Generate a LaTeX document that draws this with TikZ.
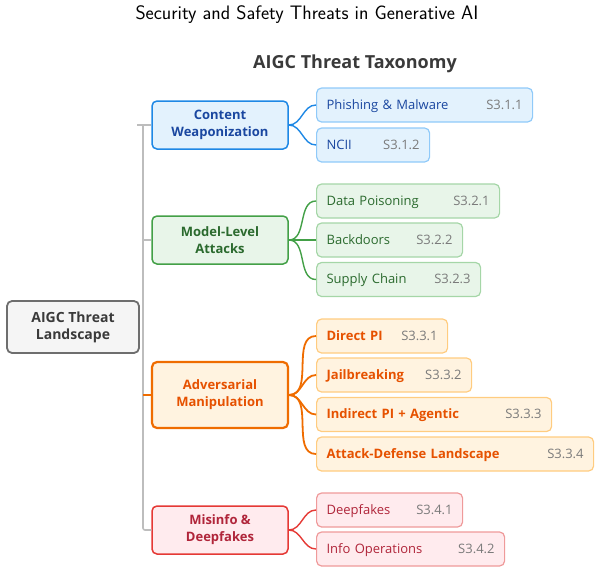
\documentclass[tikz,border=0pt]{standalone}
\usepackage{fontspec}
\setmainfont{Open Sans}
\definecolor{bluefill}{HTML}{E3F2FD}
\definecolor{blueline}{HTML}{1E88E5}
\definecolor{blueleaf}{HTML}{90CAF9}
\definecolor{bluetext}{HTML}{1A47A0}
\definecolor{greenfill}{HTML}{E8F5E9}
\definecolor{greenline}{HTML}{43A047}
\definecolor{greenleaf}{HTML}{A5D6A7}
\definecolor{greentext}{HTML}{2B6A2E}
\definecolor{orangefill}{HTML}{FFF3E0}
\definecolor{orangeline}{HTML}{EF6C00}
\definecolor{orangeleaf}{HTML}{FFCC80}
\definecolor{orangetext}{HTML}{E65100}
\definecolor{redfill}{HTML}{FFEBEE}
\definecolor{redline}{HTML}{E53935}
\definecolor{redleaf}{HTML}{EF9A9A}
\definecolor{redtext}{HTML}{B0253A}
\definecolor{rootfill}{HTML}{F5F5F5}
\definecolor{rootline}{HTML}{6E6E6E}
\definecolor{roottext}{HTML}{3A3A3A}
\definecolor{trunkgray}{HTML}{BDBDBD}
\definecolor{codegray}{HTML}{7A7A7A}
\tikzset{
  box/.style={
    rounded corners=5pt,
    align=center,
    font=\bfseries\fontsize{13}{17}\selectfont
  },
  root-box/.style={box, draw=rootline, fill=rootfill, text=roottext, line width=1.8pt,
    minimum width=132, minimum height=52, font=\bfseries\fontsize{14}{17}\selectfont},
  cat-box/.style={box, minimum width=136, minimum height=48, line width=1.5pt},
  cat-blue/.style={cat-box, draw=blueline, fill=bluefill, text=bluetext},
  cat-green/.style={cat-box, draw=greenline, fill=greenfill, text=greentext},
  cat-orange/.style={cat-box, draw=orangeline, fill=orangefill, text=orangetext,
    line width=2.2pt, minimum height=66},
  cat-red/.style={cat-box, draw=redline, fill=redfill, text=redtext},
  leaf/.style={
    rounded corners=5pt,
    anchor=west,
    align=left,
    minimum height=34,
    inner xsep=10pt,
    line width=1.2pt,
    text height=10pt,
    text depth=1.5pt,
    font=\fontsize{13}{15}\selectfont
  },
  leaf-blue/.style={leaf, draw=blueleaf, fill=bluefill, text=bluetext},
  leaf-green/.style={leaf, draw=greenleaf, fill=greenfill, text=greentext},
  leaf-orange/.style={leaf, draw=orangeleaf, fill=orangefill, text=orangetext,
    font=\bfseries\fontsize{13}{15}\selectfont},
  leaf-red/.style={leaf, draw=redleaf, fill=redfill, text=redtext},
  link/.style={line width=1.4pt},
  trunk/.style={line width=1.6pt, draw=trunkgray}
}
% leaf node: name, style, y, text width, label, section
\newcommand{\leaf}[6]{
  \node[#2, text width=#4] (#1) at (316,#3) {#5\hfill{\mdseries\color{codegray}#6}};
}

\begin{document}
\begin{tikzpicture}[x=1pt, y=-1pt]
  \useasboundingbox (0,0) rectangle (600,574);
  % titles
  \node (title) at (307,15) {\sffamily\fontsize{19.5}{21}\selectfont Security and Safety Threats in Generative AI};
  \node[font=\bfseries\fontsize{18}{20}\selectfont, text=roottext] (subtitle) at (355,64) {AIGC Threat Taxonomy};
  % root and categories
  \node[root-box] (root) at (73,327) {AIGC Threat\\Landscape};
  \node[cat-blue] (cw) at (220,125) {Content\\Weaponization};
  \node[cat-green] (ml) at (220,240) {Model-Level\\Attacks};
  \node[cat-orange] (am) at (220,395) {Adversarial\\Manipulation};
  \node[cat-red] (md) at (220,530) {Misinfo \&\\Deepfakes};
  % spine
  \coordinate (spine) at (143,0);
  \draw[trunk] ([xshift=-14pt]cw.west) -- (cw.west);
  \draw[trunk, rounded corners=2pt] (spine |- cw.west) -- (spine |- md.west) -- (md.west);
  \draw[trunk] (spine |- ml.west) -- (ml.west);
  \draw[trunk, draw=orangeline] (spine |- am.west) -- (am.west);
  % leaves
  \leaf{pm}{leaf-blue}{105}{196}{Phishing \& Malware}{S3.1.1}
  \leaf{nc}{leaf-blue}{145}{93}{NCII}{S3.1.2}
  \leaf{dp}{leaf-green}{201}{163}{Data Poisoning}{S3.2.1}
  \leaf{bd}{leaf-green}{240}{126}{Backdoors}{S3.2.2}
  \leaf{sc}{leaf-green}{279.5}{144}{Supply Chain}{S3.2.3}
  \leaf{dpi}{leaf-orange}{336}{111}{Direct PI}{S3.3.1}
  \leaf{jb}{leaf-orange}{375}{135}{Jailbreaking}{S3.3.2}
  \leaf{ipa}{leaf-orange}{414.5}{215}{Indirect PI + Agentic}{S3.3.3}
  \leaf{adl}{leaf-orange}{454}{257}{Attack-Defense Landscape}{S3.3.4}
  \leaf{df}{leaf-red}{510}{126}{Deepfakes}{S3.4.1}
  \leaf{io}{leaf-red}{549}{168}{Info Operations}{S3.4.2}
  % links
  \foreach \t in {pm,nc}
    \draw[link, blueline] (cw.east) to[out=0, in=180] (\t.west);
  \foreach \t in {dp,bd,sc}
    \draw[link, greenline] (ml.east) to[out=0, in=180] (\t.west);
  \foreach \t in {dpi,jb,ipa,adl}
    \draw[link, orangeline, line width=1.8pt] (am.east) to[out=0, in=180] (\t.west);
  \foreach \t in {df,io}
    \draw[link, redline] (md.east) to[out=0, in=180] (\t.west);
\end{tikzpicture}
\end{document}
